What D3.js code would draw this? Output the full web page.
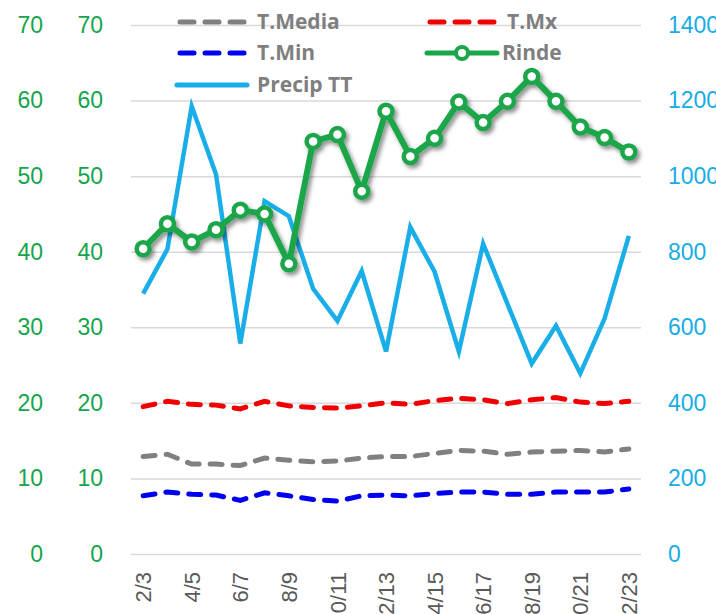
<!DOCTYPE html>
<html>
<head>
<meta charset="utf-8">
<script src="https://cdn.jsdelivr.net/npm/d3@7"></script>
<style>
  body { margin: 0; background: #fff; }
  svg { font-family: "Open Sans", "Liberation Sans", sans-serif; }
  .grid line { stroke: #d9d9d9; stroke-width: 1.5; }
  .grid path { display: none; }
</style>
</head>
<body>
<svg id="chart"></svg>
<script>
// seasons, only every other one gets a label
var seasons = ["2/3", "3/4", "4/5", "5/6", "6/7", "7/8", "8/9", "9/10", "10/11", "11/12",
  "12/13", "13/14", "14/15", "15/16", "16/17", "17/18", "18/19", "19/20", "20/21", "21/22", "22/23"];

var tMedia = [12.9, 13.2, 11.9, 11.9, 11.7, 12.7, 12.4, 12.2, 12.3, 12.7, 12.9,
  12.9, 13.3, 13.7, 13.6, 13.2, 13.5, 13.6, 13.7, 13.5, 13.9];
var tMx = [19.5, 20.2, 19.8, 19.7, 19.2, 20.2, 19.6, 19.4, 19.3, 19.6, 20.0,
  19.8, 20.3, 20.6, 20.4, 19.9, 20.4, 20.7, 20.1, 19.9, 20.2];
var tMin = [7.7, 8.2, 7.9, 7.8, 7.1, 8.1, 7.7, 7.2, 7.0, 7.7, 7.8,
  7.7, 8.0, 8.2, 8.2, 7.9, 7.9, 8.2, 8.2, 8.2, 8.6];
var rinde = [40.4, 43.7, 41.3, 42.9, 45.5, 45.0, 38.4, 54.6, 55.5, 48.0, 58.6,
  52.6, 55.0, 59.8, 57.1, 59.9, 63.2, 59.9, 56.5, 55.1, 53.2];
var precip = [689, 807, 1185, 1005, 557, 934, 894, 702, 617, 749, 536,
  865, 747, 536, 821, 662, 504, 604, 478, 623, 842];

var leftTicks = [0, 10, 20, 30, 40, 50, 60, 70];
var rightTicks = [0, 200, 400, 600, 800, 1000, 1200, 1400];

var W = 716, H = 614;
var margin = { top: 25, left: 131, right: 75, bottom: 58 };

var svg = d3.select("#chart").attr("width", W).attr("height", H);

var defs = svg.append("defs");
var shadow = defs.append("filter").attr("id", "shadow")
  .attr("x", "-20%").attr("y", "-20%").attr("width", "140%").attr("height", "140%");
shadow.append("feDropShadow")
  .attr("dx", 2.5).attr("dy", 3).attr("stdDeviation", 2.2)
  .attr("flood-color", "#000").attr("flood-opacity", 0.45);

var x = d3.scalePoint()
  .domain(seasons)
  .range([margin.left, W - margin.right])
  .padding(0.5);

var y = d3.scaleLinear().domain([0, 70]).range([H - margin.bottom - 2, margin.top]);
var y2 = d3.scaleLinear().domain([0, 1400]).range(y.range());

// horizontal gridlines
svg.append("g")
  .attr("class", "grid")
  .attr("transform", "translate(" + margin.left + ",0)")
  .call(d3.axisLeft(y).tickValues(leftTicks).tickSize(-(W - margin.right - margin.left)).tickFormat(""));

// left axes (two copies of the same scale)
function leftAxis(pad) {
  var g = svg.append("g")
    .attr("transform", "translate(" + margin.left + ",0)")
    .call(d3.axisLeft(y).tickValues(leftTicks).tickSize(0).tickPadding(pad));
  g.select(".domain").remove();
  g.selectAll("text").attr("fill", "#14a54b").style("font-size", "23px").attr("font-family", null);
}
leftAxis(28);
leftAxis(88);

var gr = svg.append("g")
  .attr("transform", "translate(" + (W - margin.right) + ",0)")
  .call(d3.axisRight(y2).tickValues(rightTicks).tickSize(0).tickPadding(27).tickFormat(d3.format("d")));
gr.select(".domain").remove();
gr.selectAll("text").attr("fill", "#17ace6").style("font-size", "23px").attr("font-family", null);

// x axis labels, every other season
var gx = svg.append("g")
  .attr("transform", "translate(0," + (H - margin.bottom + 16) + ")")
  .call(d3.axisBottom(x).tickSize(0).tickFormat((d, i) => i % 2 === 0 ? d : ""));
gx.select(".domain").remove();
gx.selectAll("text")
  .attr("fill", "#595959")
  .style("font-size", "22px")
  .attr("font-family", null)
  .attr("text-anchor", "end")
  .attr("transform", "rotate(-90)")
  .attr("x", 0)
  .attr("y", 0)
  .attr("dy", "0.35em");

var idx = d3.range(seasons.length);

function dashed(values, color) {
  svg.append("path")
    .datum(idx)
    .attr("fill", "none")
    .attr("stroke", color)
    .attr("stroke-width", 5)
    .attr("stroke-linecap", "round")
    .attr("stroke-dasharray", "12 11")
    .attr("d", d3.line().x(i => x(seasons[i])).y(i => y(values[i])));
}
dashed(tMx, "#f00000");
dashed(tMedia, "#808080");
dashed(tMin, "#0000f0");

// precipitation on right axis
svg.append("path")
  .datum(idx)
  .attr("fill", "none")
  .attr("stroke", "#19aee8")
  .attr("stroke-width", 4.5)
  .attr("stroke-linejoin", "miter")
  .attr("d", d3.line().x(i => x(seasons[i])).y(i => y2(precip[i])));

// rinde with markers
var rg = svg.append("g").attr("filter", "url(#shadow)");
rg.append("path")
  .datum(idx)
  .attr("fill", "none")
  .attr("stroke", "#1aa64a")
  .attr("stroke-width", 6)
  .attr("stroke-linejoin", "round")
  .attr("d", d3.line().x(i => x(seasons[i])).y(i => y(rinde[i])));
rg.selectAll("circle")
  .data(idx)
  .join("circle")
  .attr("cx", i => x(seasons[i]))
  .attr("cy", i => y(rinde[i]))
  .attr("r", 6.5)
  .attr("fill", "#fff")
  .attr("stroke", "#1aa64a")
  .attr("stroke-width", 4.5);

// legend
var legendItems = [
  { name: "T.Media", color: "#808080", type: "dash", lx: 177, ly: 22 },
  { name: "T.Mx", color: "#f00000", type: "dash", lx: 427, ly: 22 },
  { name: "T.Min", color: "#0000f0", type: "dash", lx: 177, ly: 53 },
  { name: "Rinde", color: "#1aa64a", type: "marker", lx: 427, ly: 53 },
  { name: "Precip TT", color: "#19aee8", type: "solid", lx: 177, ly: 85 }
];
var lg = svg.append("g");
legendItems.forEach(function(d) {
  var sw = 70;
  if (d.type === "dash") {
    lg.append("line")
      .attr("x1", d.lx + 3).attr("x2", d.lx + sw - 3)
      .attr("y1", d.ly).attr("y2", d.ly)
      .attr("stroke", d.color).attr("stroke-width", 5)
      .attr("stroke-linecap", "round").attr("stroke-dasharray", "14 11");
  } else if (d.type === "solid") {
    lg.append("line")
      .attr("x1", d.lx).attr("x2", d.lx + sw)
      .attr("y1", d.ly).attr("y2", d.ly)
      .attr("stroke", d.color).attr("stroke-width", 5)
      .attr("stroke-linecap", "round");
  } else {
    lg.append("line")
      .attr("x1", d.lx).attr("x2", d.lx + sw)
      .attr("y1", d.ly).attr("y2", d.ly)
      .attr("stroke", d.color).attr("stroke-width", 5)
      .attr("stroke-linecap", "round");
    lg.append("circle")
      .attr("cx", d.lx + sw / 2).attr("cy", d.ly).attr("r", 6)
      .attr("fill", "#fff").attr("stroke", d.color).attr("stroke-width", 4);
  }
  lg.append("text")
    .attr("x", d.lx + sw + (d.type === "marker" ? 5 : 10))
    .attr("y", d.ly)
    .attr("dy", "0.35em")
    .attr("fill", "#7f7f7f")
    .style("font-size", "21px")
    .style("font-weight", "bold")
    .text(d.name);
});
</script>
</body>
</html>
